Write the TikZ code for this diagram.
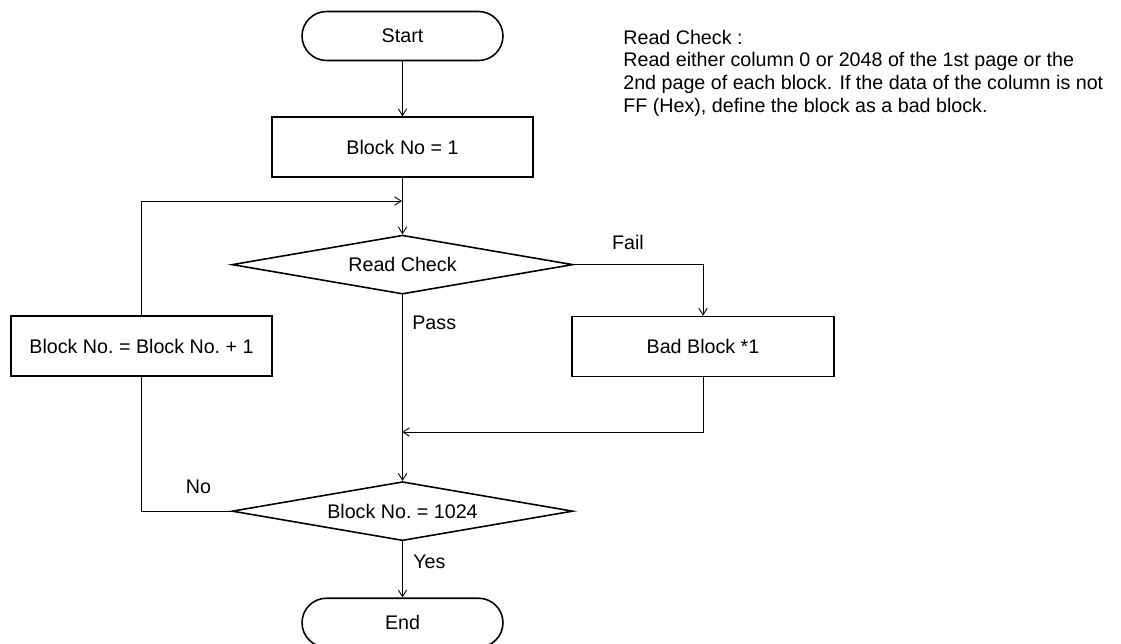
\documentclass[tikz,border=0pt]{standalone}
\usepackage{fontspec}
\setmainfont{Liberation Sans}
\usetikzlibrary{positioning, shapes.geometric, arrows.meta}

\begin{document}
\begin{tikzpicture}[
    x=0.02cm, y=-0.02cm,
    font=\fontsize{11.2}{12.9}\selectfont,
    term/.style={rectangle, draw, line width=0.9pt, rounded corners=0.49cm,
                 minimum width=4.02cm, minimum height=0.98cm, inner sep=0pt},
    block/.style={rectangle, draw, line width=0.9pt, minimum width=5.22cm,
                  minimum height=1.2cm, inner sep=0pt},
    decide/.style={diamond, draw, line width=0.9pt, aspect=5.8, inner sep=0pt,
                   minimum width=6.82cm, minimum height=1.18cm},
    arrow/.style={->, >={Straight Barb[length=3.8pt,width=4.8pt]}, line width=0.5pt},
    line/.style={line width=0.5pt},
    lbl/.style={inner sep=0pt}
]
    \useasboundingbox (0,0) rectangle (1121,643);

    % main column
    \node [term] (start) at (402.5,36) {Start};
    \node [block, below=1.1cm of start] (init) {Block No = 1};
    \node [decide, below=1.13cm of init] (readchk) {Read Check};
    \node [decide, below=3.72cm of readchk] (last) {Block No.\ = 1024};
    \node [term, below=1.12cm of last] (end) {End};

    % side boxes
    \node [block, minimum width=5.24cm] (bad) at (703,346.5) {Bad Block *1};
    \node [block] (incr) at (141.5,346) {Block No.\ = Block No.\ + 1};

    \node [lbl, anchor=north west, align=left] (note) at (623,29.5)
        {Read Check :\\
         Read either column 0 or 2048 of the 1st page or the\\
         2nd page of each block. If the data of the column is not\\
         FF (Hex), define the block as a bad block.};

    \coordinate (loopin) at (402,201);
    \coordinate (badin) at (402,432);

    \draw [arrow] (start) -- (init);
    \draw [arrow] (init) -- (readchk);
    \draw [arrow] (incr.north) |- (loopin);
    \draw [arrow] (readchk.east) -| (bad.north);
    \draw [arrow] (bad.south) |- (badin);
    \draw [arrow] (readchk) -- (last);
    \draw [line] (last.west) -| (incr.south);
    \draw [arrow] (last) -- (end);

    \node [lbl, anchor=base] (fail) at (628,249) {Fail};
    \node [lbl, anchor=base west] (pass) at (412,329) {Pass};
    \node [lbl, anchor=base] (no) at (198.5,493) {No};
    \node [lbl, anchor=base west] (yes) at (413,568) {Yes};
\end{tikzpicture}
\end{document}
